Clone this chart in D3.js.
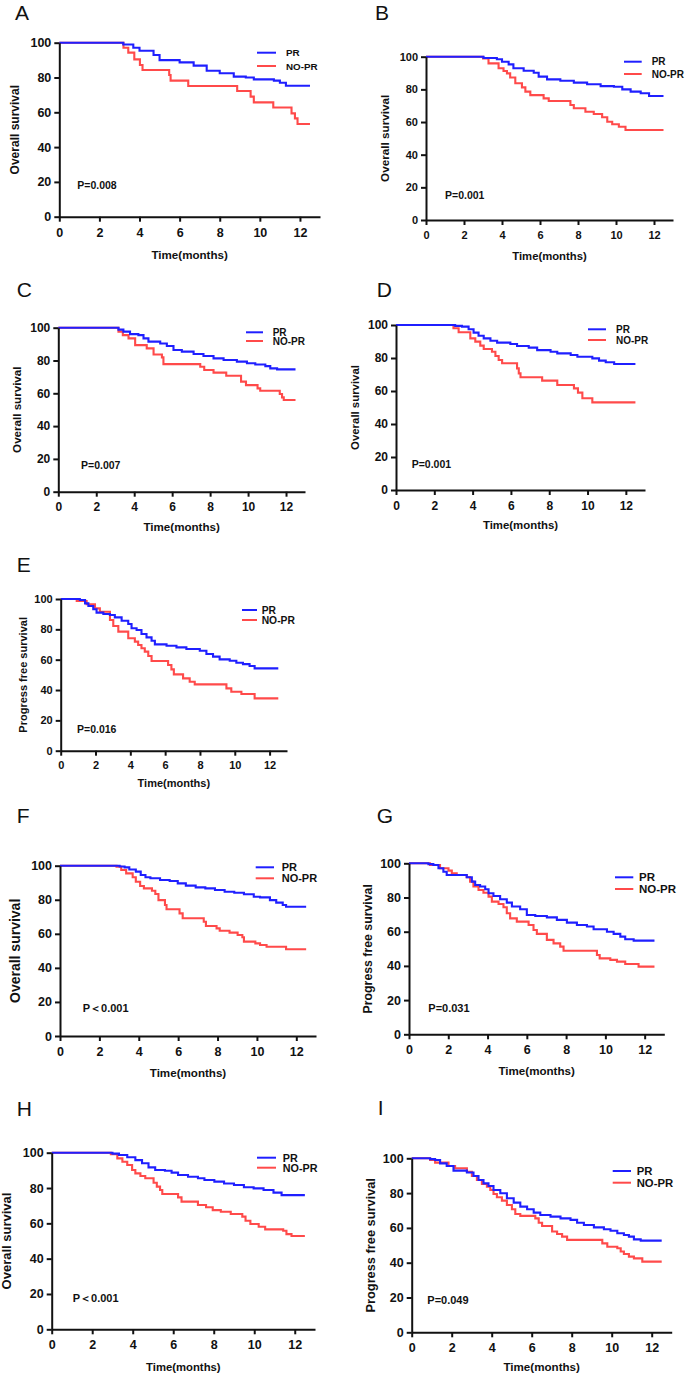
<!DOCTYPE html>
<html>
<head>
<meta charset="utf-8">
<title>Survival curves PR vs NO-PR</title>
<script src="https://d3js.org/d3.v7.min.js"></script>
<style>
  body { margin: 0; background: #fff; }
  svg { display: block; }
  text { font-family: "Liberation Sans", Arial, sans-serif; fill: #111; }
  .tick text { font-weight: bold; }
  .domain, .tick line { stroke: #111; stroke-width: 2px; }
</style>
</head>
<body>
<script>
// ---- data (time in months, survival in %) ----
var groupNames = ["PR", "NO-PR"];
var panelIds = ["A", "B", "C", "D", "E", "F", "G", "H", "I"];
var yTitles = ["Overall survival", "Overall survival", "Overall survival", "Overall survival",
  "Progress free survival", "Overall survival", "Progress free survival", "Overall survival", "Progress free survival"];
var pLabels = ["P=0.008", "P=0.001", "P=0.007", "P=0.001", "P=0.016", "P\uFF1C0.001", "P=0.031", "P\uFF1C0.001", "P=0.049"];
var xTicks = [0, 2, 4, 6, 8, 10, 12];
var yTicks = [0, 20, 40, 60, 80, 100];

var tA_pr = [0, 3.19, 3.69, 4.0, 4.7, 5.0, 6.0, 6.7, 7.35, 8.0, 8.7, 9.3, 9.7, 10.7, 11.0, 11.3, 12.5];
var sA_pr = [100, 99, 97.1, 95.4, 92.9, 90, 88.7, 86.8, 83.9, 82.4, 80.5, 80, 78.9, 78.2, 77, 75.3, 75.3];
var tA_no = [0, 3.2, 3.44, 3.74, 4.02, 4.15, 5.48, 5.55, 6.43, 8.87, 9.54, 9.7, 10.67, 11.58, 11.75, 11.88, 12.5];
var sA_no = [100, 97.1, 94.3, 90.4, 87.2, 84.3, 81.4, 78.2, 75.1, 72.2, 69, 65.7, 62.8, 59.4, 56.5, 53.3, 53.3];

var tB_pr = [0, 3.03, 3.73, 4.0, 4.35, 4.6, 5.14, 5.67, 5.93, 6.37, 7.07, 7.78, 8.48, 9.19, 9.89, 10.33, 10.77, 11.3, 11.74, 12.5];
var sB_pr = [100, 99.2, 98.4, 96.9, 95.3, 92.9, 91.4, 90.2, 87.8, 86.1, 85.3, 84.1, 83.1, 82, 81.6, 80, 78.6, 77.6, 75.9, 75.9];
var tB_no = [0, 3.0, 3.29, 3.82, 4.08, 4.26, 4.43, 4.7, 5.05, 5.23, 5.49, 6.19, 6.46, 7.6, 7.78, 8.39, 8.83, 9.27, 9.54, 9.8, 10.15, 10.5, 12.5];
var sB_no = [100, 99, 95.9, 92.9, 91.2, 89.8, 87.3, 83.7, 81.2, 78.6, 76.5, 74.5, 72.9, 70.4, 68.4, 66.3, 64.9, 62.9, 60.2, 58.6, 57.1, 55.1, 55.1];

var tC_pr = [0, 3.17, 3.43, 3.78, 4.22, 4.49, 4.75, 5.37, 5.72, 6.07, 6.51, 7.13, 7.65, 8.18, 8.71, 9.41, 9.94, 10.38, 10.91, 11.17, 11.53, 12.5];
var sC_pr = [100, 98.8, 97.6, 96.1, 95.5, 93.5, 91.5, 90.4, 88.8, 86.4, 85.4, 84, 82.7, 81.3, 80.3, 79.3, 78.3, 77.6, 76.6, 75.2, 74.6, 74.6];
var tC_no = [0, 3.17, 3.4, 3.7, 4.05, 4.66, 5.02, 5.46, 5.54, 7.48, 7.69, 8.18, 8.85, 9.63, 9.89, 10.5, 10.64, 11.67, 11.79, 11.88, 12.5];
var sC_no = [100, 97.6, 95.5, 93.5, 89.4, 87.4, 83.7, 81.9, 77.8, 76.2, 74.2, 72.6, 70.7, 67.1, 65, 63, 61.6, 59.6, 57.5, 55.9, 55.9];

var tD_pr = [0, 3.09, 3.44, 3.79, 4.05, 4.31, 4.58, 4.93, 5.28, 5.97, 6.32, 6.93, 7.37, 8.07, 8.42, 9.12, 9.47, 10.25, 10.6, 10.95, 11.39, 12.5];
var sD_pr = [100, 99.5, 99, 97.4, 95.4, 93.5, 91.9, 90.5, 89.3, 88.5, 87.3, 86.3, 84.8, 83.8, 82.8, 81.8, 80.8, 79.8, 78.4, 77.4, 76.4, 76.4];
var tD_no = [0, 3.0, 3.27, 3.88, 4.14, 4.4, 4.58, 5.01, 5.19, 5.36, 5.54, 6.32, 6.41, 6.5, 7.63, 8.42, 9.29, 9.5, 9.73, 10.25, 12.5];
var sD_no = [100, 98, 95.6, 91.9, 89.9, 87.5, 85.5, 83.8, 81.2, 78.8, 76.8, 73.7, 70.7, 68.3, 66.3, 63.6, 61.6, 59, 55.6, 53.1, 53.1];

var tE_pr = [0, 1.1, 1.4, 1.59, 1.87, 2.06, 2.45, 2.83, 3.11, 3.5, 3.88, 4.07, 4.36, 4.64, 4.93, 5.22, 5.41, 6.08, 6.65, 7.22, 7.99, 8.37, 8.75, 9.13, 9.71, 10.09, 10.47, 10.85, 11.14, 12.5];
var sE_pr = [100, 99.3, 97.1, 95.4, 93.2, 91, 90.1, 89.5, 87.9, 85.7, 83.5, 80.7, 79.6, 76.9, 74.7, 72.5, 70.1, 69.2, 68.1, 67, 65.9, 63.7, 62, 60.2, 59.3, 58, 57.1, 55.8, 54.3, 54.3];
var tE_no = [0, 0.92, 1.49, 1.97, 2.25, 2.83, 3.02, 3.31, 3.88, 4.26, 4.45, 4.64, 4.83, 5.03, 5.22, 6.17, 6.36, 6.5, 7.03, 7.41, 7.7, 9.52, 9.8, 10.38, 11.14, 12.5];
var sE_no = [100, 98.7, 96.5, 93.8, 91.6, 86.2, 82.2, 78.5, 74.1, 71.9, 69.7, 67.5, 65.3, 62.4, 59.1, 56.5, 53.6, 50.3, 47.7, 45.5, 43.7, 41.1, 38.9, 37.4, 34.5, 34.5];

var tF_pr = [0, 3.03, 3.28, 3.52, 3.85, 4.1, 4.34, 4.59, 5.08, 5.57, 5.98, 6.39, 6.89, 7.38, 7.87, 8.36, 8.85, 9.34, 9.84, 10.16, 10.66, 10.98, 11.31, 11.48, 12.5];
var sF_pr = [100, 99.5, 99, 97.8, 96.5, 94.5, 93.2, 92.6, 91.6, 91, 89.6, 88.3, 87.3, 86.7, 85.7, 84.7, 84.1, 83.2, 81.8, 81.4, 79.8, 78.3, 76.9, 75.9, 75.9];
var tF_no = [0, 2.87, 3.11, 3.36, 3.69, 3.85, 4.07, 4.26, 4.67, 4.84, 5.0, 5.33, 5.41, 6.07, 6.23, 7.3, 7.41, 7.95, 8.11, 8.61, 9.02, 9.26, 9.34, 9.92, 10.16, 10.49, 11.48, 12.5];
var sF_no = [100, 99.4, 97.5, 95.5, 93.2, 90.6, 88.1, 86.7, 85.3, 83.4, 79.8, 76.9, 74.4, 72, 69.1, 67.1, 64.6, 63.2, 61.8, 60.7, 59.3, 58, 55.4, 54.4, 53.4, 52.4, 50.9, 50.9];

var tG_pr = [0, 0.99, 1.24, 1.5, 1.75, 1.92, 2.94, 3.2, 3.37, 3.62, 3.88, 4.05, 4.3, 4.64, 4.98, 5.24, 5.66, 6.0, 6.43, 7.02, 7.53, 8.04, 8.55, 9.06, 9.4, 10.08, 10.42, 10.76, 11.01, 11.44, 12.5];
var sG_pr = [100, 99.5, 99, 97.1, 95.1, 93.2, 91.8, 89.3, 87.3, 86.4, 84.8, 82.5, 80.9, 79, 77, 74.7, 73.1, 69.8, 69.2, 68.4, 66.9, 65.3, 63.9, 63, 61.4, 60, 58.7, 57.1, 55.6, 54.8, 54.8];
var tG_no = [0, 1.07, 1.58, 2.01, 2.18, 2.43, 2.94, 3.11, 3.28, 3.54, 3.79, 4.05, 4.22, 4.56, 4.81, 4.98, 5.15, 5.49, 6.09, 6.34, 6.51, 7.02, 7.36, 7.7, 7.87, 9.57, 9.71, 10.25, 10.59, 11.01, 11.69, 12.5];
var sG_no = [100, 99, 97.1, 95.7, 94.2, 93.2, 91.8, 89.3, 86.4, 84.4, 82.8, 80.5, 77.6, 76.2, 74.3, 70.8, 67.8, 65.9, 63.9, 61, 58.7, 55.2, 53.2, 51.3, 48.9, 46.4, 44.4, 43.5, 42.5, 41.1, 39.6, 39.6];

var tH_pr = [0, 3.0, 3.32, 3.73, 4.13, 4.46, 4.78, 5.11, 5.59, 5.92, 6.24, 6.73, 7.22, 7.54, 8.03, 8.51, 9.0, 9.49, 9.97, 10.46, 10.95, 11.35, 12.5];
var sH_pr = [100, 99.5, 98.7, 97.4, 95.8, 94, 91.7, 90.2, 89.8, 88.7, 87.4, 86.4, 85.5, 84.5, 83.6, 82.6, 81.7, 80.4, 79.8, 78.9, 77.4, 76, 76];
var tH_no = [0, 2.92, 3.24, 3.49, 3.73, 3.97, 4.13, 4.38, 4.62, 5.03, 5.19, 5.35, 5.46, 6.24, 6.41, 7.22, 7.62, 7.95, 8.35, 8.84, 9.41, 9.57, 9.81, 10.22, 10.54, 11.43, 11.59, 11.84, 12.5];
var sH_no = [100, 99.2, 96.8, 94.9, 93, 90.2, 88.3, 86.8, 85.5, 83, 80.8, 78.9, 76.6, 74.7, 72.3, 70.4, 69.1, 67.5, 66.6, 65.3, 63.8, 61.5, 59.6, 58.1, 56.6, 55.8, 53.9, 52.8, 52.8];

var tI_pr = [0, 0.92, 1.17, 1.42, 1.75, 2.09, 2.76, 3.09, 3.34, 3.59, 3.84, 4.09, 4.43, 4.76, 5.1, 5.43, 5.77, 6.1, 6.43, 6.94, 7.44, 7.94, 8.27, 8.61, 9.11, 9.61, 9.94, 10.28, 10.61, 10.86, 11.11, 11.45, 12.5];
var sI_pr = [100, 99.5, 99, 97.1, 95.6, 92.9, 91.8, 89.8, 87.5, 85.6, 84.1, 81.8, 79.9, 77, 74.5, 72.2, 70.7, 68.8, 67.4, 66.5, 65.5, 64.6, 63, 61.7, 60.3, 59.2, 58.4, 56.9, 55.9, 55, 53.4, 52.7, 52.7];
var tI_no = [0, 0.92, 1.17, 1.84, 2.17, 2.76, 3.01, 3.26, 3.51, 3.76, 3.93, 4.09, 4.26, 4.51, 4.76, 5.01, 5.18, 5.43, 6.18, 6.35, 6.52, 7.02, 7.27, 7.52, 7.77, 9.53, 9.78, 10.28, 10.45, 10.61, 10.86, 11.11, 11.53, 12.5];
var sI_no = [100, 99, 97.5, 95.6, 94.3, 92.3, 89.8, 87.5, 85.2, 83.7, 81.8, 79.5, 77.6, 75.7, 73.2, 70.7, 68, 66.9, 65.5, 63, 61.1, 57.9, 56.5, 55, 53.1, 51.1, 49.2, 48.3, 46.4, 45, 43.5, 42.5, 40.6, 40.6];

var prTimes = [tA_pr, tB_pr, tC_pr, tD_pr, tE_pr, tF_pr, tG_pr, tH_pr, tI_pr];
var prSurv  = [sA_pr, sB_pr, sC_pr, sD_pr, sE_pr, sF_pr, sG_pr, sH_pr, sI_pr];
var noTimes = [tA_no, tB_no, tC_no, tD_no, tE_no, tF_no, tG_no, tH_no, tI_no];
var noSurv  = [sA_no, sB_no, sC_no, sD_no, sE_no, sF_no, sG_no, sH_no, sI_no];

// ---- layout of each panel in the figure (pixels) ----
var layout = [
  {x0: 59.3, x1: 320,   yb: 216.7,  yt: 42.7,   tf: 12.5, lx: 15,   lf: 12,   tyY: 259,  tyF: 11.6, let: [15, 20],      lg: [257, 276, 52.7, 66, 286, 9.8],       p: [77.3, 189, 10.5]},
  {x0: 426,  x1: 673,   yb: 220,    yt: 56.7,   tf: 11,   lx: 385,  lf: 11.7, tyY: 260,  tyF: 11.3, let: [375, 20],     lg: [624, 641.7, 61.7, 74, 651.7, 10],     p: [445, 199, 10.5]},
  {x0: 58.3, x1: 305,   yb: 491.7,  yt: 327.7,  tf: 12,   lx: 16.7, lf: 11.6, tyY: 531,  tyF: 11.6, let: [16.7, 296.7], lg: [246, 263, 332.3, 341, 272.7, 10],     p: [81, 469, 10.5]},
  {x0: 396,  x1: 645,   yb: 490,    yt: 325,    tf: 12,   lx: 355,  lf: 11.4, tyY: 529,  tyF: 11.4, let: [376.7, 296.7],lg: [588, 606, 329.3, 340, 616, 10],       p: [411.7, 468.3, 10.5]},
  {x0: 60.7, x1: 287,   yb: 750.7,  yt: 599,    tf: 11,   lx: 22.7, lf: 11,   tyY: 787,  tyF: 11,   let: [16.7, 571.7], lg: [242, 257, 610, 620, 261.7, 10.3],     p: [77, 733.3, 10.5]},
  {x0: 60,   x1: 316,   yb: 1036,   yt: 865.7,  tf: 12.5, lx: 15,   lf: 14,   tyY: 1077, tyF: 11.6, let: [16.7, 823.3], lg: [255.7, 274, 867.3, 878.3, 281.7, 11], p: [82.7, 1011.5, 11]},
  {x0: 409,  x1: 664.3, yb: 1034.3, yt: 863.3,  tf: 12.5, lx: 368,  lf: 12.3, tyY: 1075, tyF: 11.6, let: [376.7, 823.3],lg: [615, 633.3, 877.3, 889, 639, 11.5],   p: [428.3, 1011.5, 11]},
  {x0: 51.7, x1: 315,   yb: 1329.3, yt: 1152.7, tf: 12.5, lx: 6,    lf: 13,   tyY: 1371, tyF: 11.3, let: [16.7, 1116],  lg: [257, 276, 1157.7, 1167.7, 282.7, 10.8], p: [72.7, 1301.5, 11]},
  {x0: 411.7,x1: 671.7, yb: 1332.3, yt: 1158.3, tf: 12.5, lx: 370,  lf: 12.8, tyY: 1371, tyF: 11.6, let: [377.7, 1115], lg: [612.7, 631, 1171, 1182.7, 636.7, 11.3], p: [427.3, 1304, 11]}
];

var colors = ["#1f1fff", "#ff4a4a"];

var svg = d3.select("body").append("svg")
    .attr("width", 685)
    .attr("height", 1377);

layout.forEach(function(L, i) {
  var x = d3.scaleLinear().domain([0, 13]).range([L.x0, L.x1]);
  var y = d3.scaleLinear().domain([0, 100]).range([L.yb, L.yt]);
  var g = svg.append("g");

  // curves (step functions)
  var line = d3.line()
      .x(function(d) { return x(d[0]); })
      .y(function(d) { return y(d[1]); })
      .curve(d3.curveStepAfter);
  var series = [d3.zip(prTimes[i], prSurv[i]), d3.zip(noTimes[i], noSurv[i])];
  // draw NO-PR first so PR sits on top where they overlap at 100
  [1, 0].forEach(function(k) {
    g.append("path")
      .datum(series[k])
      .attr("fill", "none")
      .attr("stroke", colors[k])
      .attr("stroke-width", 2.1)
      .attr("d", line);
  });

  // axes
  g.append("g")
    .attr("transform", "translate(0," + L.yb + ")")
    .call(d3.axisBottom(x).tickValues(xTicks).tickSize(5).tickPadding(6).tickSizeOuter(0))
    .selectAll("text").style("font-size", L.tf + "px");
  g.append("g")
    .attr("transform", "translate(" + L.x0 + ",0)")
    .call(d3.axisLeft(y).tickValues(yTicks).tickSize(5).tickPadding(3).tickSizeOuter(0))
    .selectAll("text").style("font-size", L.tf + "px");
  g.selectAll(".tick text").attr("fill", "#111");

  // axis titles
  g.append("text")
    .attr("transform", "translate(" + (L.lx + L.lf * 0.36) + "," + ((L.yb + L.yt) / 2) + ") rotate(-90)")
    .attr("text-anchor", "middle")
    .style("font-weight", "bold")
    .style("font-size", L.lf + "px")
    .text(yTitles[i]);
  g.append("text")
    .attr("x", (L.x0 + L.x1) / 2)
    .attr("y", L.tyY)
    .attr("text-anchor", "middle")
    .style("font-weight", "bold")
    .style("font-size", L.tyF + "px")
    .text("Time(months)");

  // panel letter
  g.append("text")
    .attr("x", L.let[0]).attr("y", L.let[1])
    .style("font-size", "21px")
    .text(panelIds[i]);

  // legend
  [0, 1].forEach(function(k) {
    var ly = k === 0 ? L.lg[2] : L.lg[3];
    g.append("line")
      .attr("x1", L.lg[0]).attr("x2", L.lg[1])
      .attr("y1", ly).attr("y2", ly)
      .attr("stroke", colors[k]).attr("stroke-width", 2);
    g.append("text")
      .attr("x", L.lg[4]).attr("y", ly + L.lg[5] * 0.36)
      .style("font-weight", "bold")
      .style("font-size", L.lg[5] + "px")
      .text(groupNames[k]);
  });

  // p value
  g.append("text")
    .attr("x", L.p[0]).attr("y", L.p[1])
    .style("font-weight", "bold")
    .style("font-size", L.p[2] + "px")
    .text(pLabels[i]);
});
</script>
</body>
</html>
